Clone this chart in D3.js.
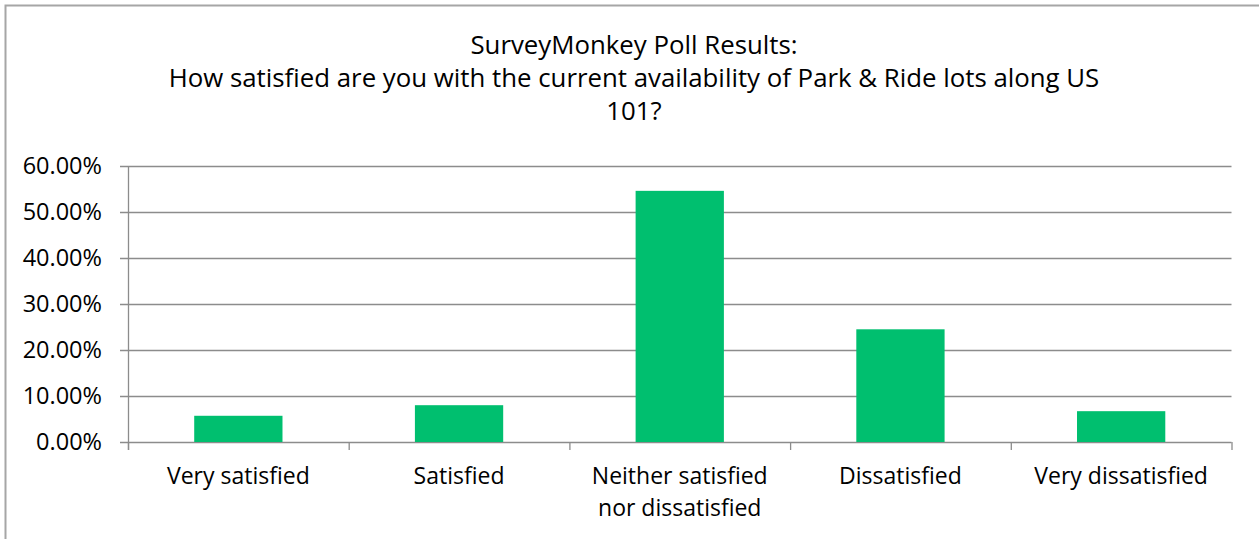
<!DOCTYPE html>
<html><head><meta charset="utf-8">
<script src="https://cdn.jsdelivr.net/npm/d3@7"></script>
<style>body{margin:0;background:#fff;}svg{display:block;font-family:"Open Sans","Noto Sans",sans-serif;}</style>
</head><body>
<svg id="c" width="1259" height="539"></svg>
<script>
const categories = [["Very satisfied"],["Satisfied"],["Neither satisfied","nor dissatisfied"],["Dissatisfied"],["Very dissatisfied"]];
const values = [5.7, 8.0, 54.6, 24.5, 6.7];
const yTicks = [0,10,20,30,40,50,60];
const titleLines = ["SurveyMonkey Poll Results:","How satisfied are you with the current availability of Park & Ride lots along US","101?"];

const svg = d3.select("#c");
svg.append("path").attr("d","M5.5,539 V5.5 H1259").attr("fill","none").attr("stroke","#a6a6a6").attr("stroke-width",2);

const L=128, R=1231.5, T=166, B=442;
const x = d3.scaleBand().domain(d3.range(categories.length)).range([L,R]).paddingInner(0.6).paddingOuter(0.3);
const y = d3.scaleLinear().domain([0,60]).range([B,T]);

svg.append("g").selectAll("line").data(yTicks).join("line")
 .attr("x1",L-8).attr("x2",R).attr("y1",d=>Math.round(y(d))+0.5).attr("y2",d=>Math.round(y(d))+0.5)
 .attr("stroke","#8c8c8c").attr("stroke-width",1.3);

svg.append("g").selectAll("rect").data(values).join("rect")
 .attr("x",(d,i)=>x(i)).attr("width",x.bandwidth())
 .attr("y",d=>y(d)).attr("height",d=>B-y(d)).attr("fill","#00bf6f");

svg.append("line").attr("x1",L+0.5).attr("x2",L+0.5).attr("y1",T).attr("y2",B+8).attr("stroke","#8c8c8c").attr("stroke-width",1.3);
const step = (R-L)/categories.length;
svg.append("g").selectAll("line").data(d3.range(categories.length+1)).join("line")
 .attr("x1",i=>L+i*step+0.5).attr("x2",i=>L+i*step+0.5).attr("y1",B).attr("y2",B+8)
 .attr("stroke","#8c8c8c").attr("stroke-width",1.3);

svg.append("g").selectAll("text").data(yTicks).join("text")
 .attr("x",102).attr("y",d=>y(d)+8).attr("text-anchor","end")
 .attr("font-size",23.5).attr("fill","#000").text(d=>d.toFixed(2)+"%");

const xl = svg.append("g").selectAll("text").data(categories).join("text")
 .attr("text-anchor","middle").attr("font-size",23).attr("fill","#000");
xl.each(function(lines,i){
  const t=d3.select(this);
  lines.forEach((s,j)=>t.append("tspan").attr("x",x(i)+x.bandwidth()/2).attr("y",484+j*32).text(s));
});

svg.append("g").selectAll("text").data(titleLines).join("text")
 .attr("x",634).attr("y",(d,i)=>54+i*33).attr("text-anchor","middle")
 .attr("font-size",25.8).attr("fill","#000").text(d=>d);
</script>
</body></html>
